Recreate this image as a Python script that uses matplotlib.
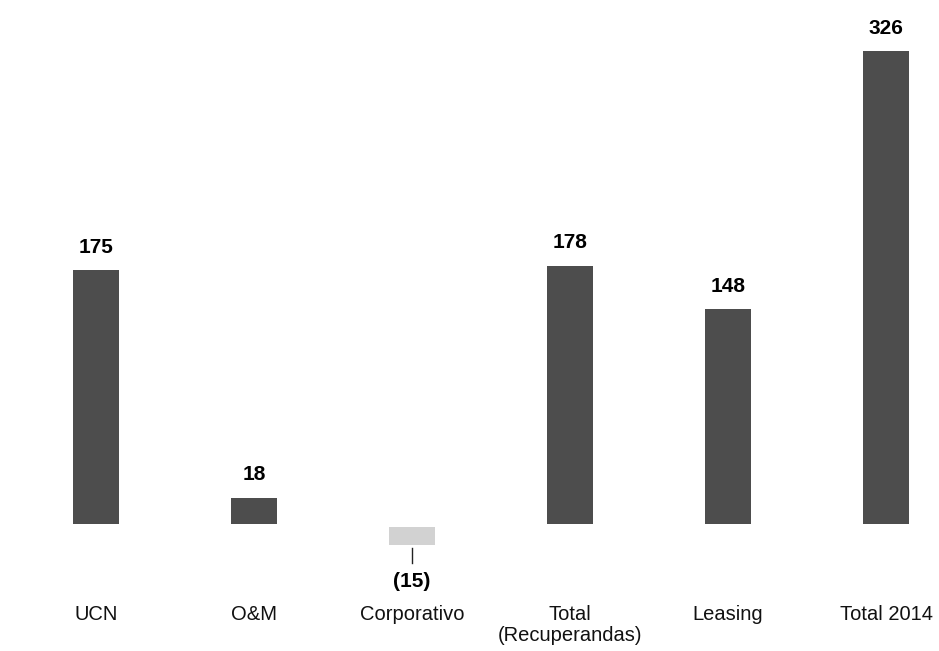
import numpy as np
from matplotlib import pyplot as plt

plt.rcParams['font.family'] = ['Liberation Sans', 'DejaVu Sans']

categories = ['UCN', 'O&M', 'Corporativo', 'Total\n(Recuperandas)', 'Leasing', 'Total 2014']
values = [175, 18, -15, 178, 148, 326]
labels = ['175', '18', '(15)', '178', '148', '326']

fig = plt.figure(figsize=(9.39, 6.51), dpi=100)
ax = fig.add_axes([0, 0, 1, 1])

x = np.arange(len(categories))
colors = ['#4d4d4d' if v > 0 else '#d2d2d2' for v in values]

# negative bar sits slightly below the baseline, like the original
bottoms = [0 if v > 0 else -2 for v in values]
heights = [v if v > 0 else v + 2.5 for v in values]
ax.bar(x, heights, bottom=bottoms, width=0.29, color=colors, edgecolor='none')

for xi, v, lab in zip(x, values, labels):
    if v > 0:
        ax.annotate(lab, (xi, v), xytext=(0, 16.5), textcoords='offset points',
                    ha='center', va='center', fontsize=15, fontweight='bold')
    else:
        ax.plot([xi, xi], [-16.5, -27], color='#222222', lw=1)
        ax.text(xi, -40, lab, ha='center', va='center', fontsize=15, fontweight='bold')

for xi, cat in zip(x, categories):
    ax.text(xi, -56, cat, ha='center', va='top', fontsize=14.5, color='#111111', linespacing=1.15)

ax.set_xlim(-0.608, 5.335)
ax.set_ylim(-87.6, 361.4)
ax.axis('off')

plt.savefig('out.png', dpi=100)
